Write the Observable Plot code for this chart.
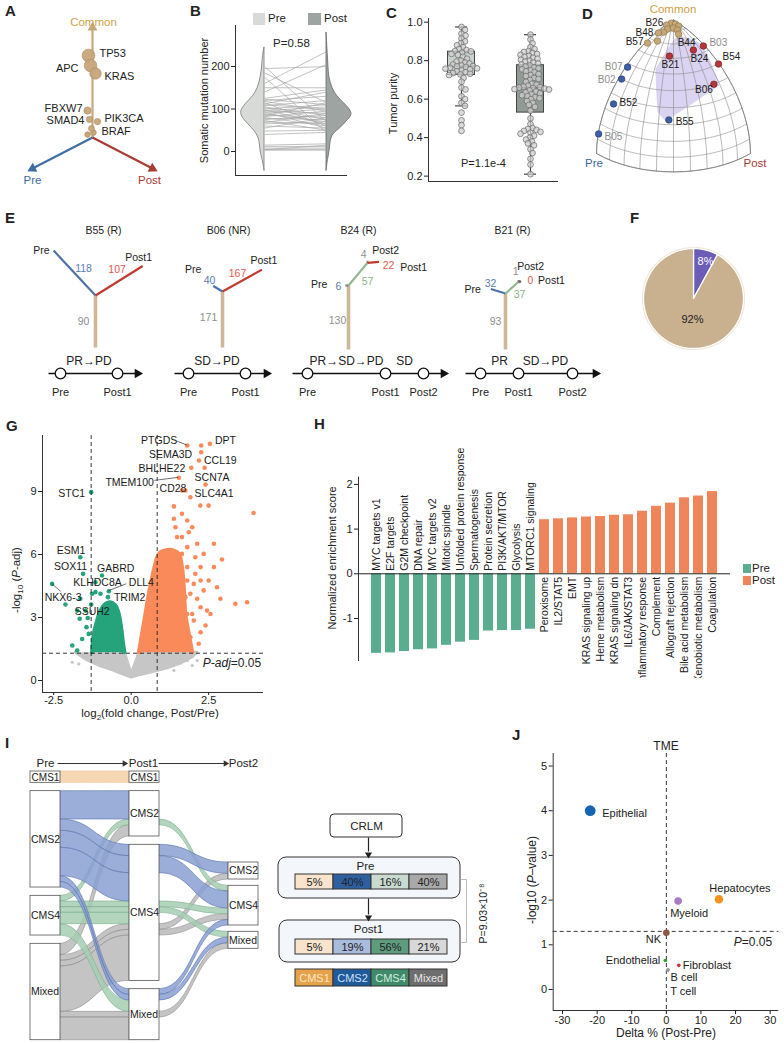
<!DOCTYPE html>
<html><head><meta charset="utf-8">
<script src="https://cdn.jsdelivr.net/npm/d3@7"></script>
<script src="https://cdn.jsdelivr.net/npm/@observablehq/plot@0.6"></script>
<style>
html,body{margin:0;padding:0;background:#fff;}
#fig{position:relative;width:784px;height:1043px;overflow:hidden;background:#fff;font-family:'Liberation Sans',Arial,Helvetica,sans-serif;color:#222;}
.t{position:absolute;white-space:nowrap;line-height:1;}
.L{position:absolute;font-weight:bold;font-size:15px;line-height:1;}
.sq{position:absolute;}
</style></head><body><div id="fig"></div>
<script>
// ======================= DATA =======================
// A: driver genes positioned on Common / Pre / Post axes
const aAxes=["Common","Pre","Post"];
const aGenes=["TP53","APC","KRAS","FBXW7","SMAD4","PIK3CA","BRAF"];
const aCommonFrac=[0.745,0.655,0.582,0.245,0.164,0.145,0.082];
const aPostMinusPre=[-0.067,-0.033,0.05,-0.083,-0.05,0.083,-0.017];
const aFreq=[0.62,0.6,0.5,0.2,0.15,0.15,0.14];
const aMinorCommonFrac=[0.027,0.045];
const aMinorPostMinusPre=[-0.083,0.017];
const aMinorFreq=[0.12,0.12];

// B: somatic mutation number, paired Pre / Post
const bGroups=["Pre","Post"];
const bPre =[200,195,185,175,160,150,140,125,123,120,118,115,112,110,108,105,103,100,98,96,95,93,90,88,86,84,82,80,78,75,73,70,68,65,60,55,48,40,15,12,8,5,4,3];
const bPost=[70,200,115,45,235,150,205,145,110,130,95,60,140,100,120,85,75,110,65,105,90,55,100,70,80,115,95,60,75,85,50,65,90,70,55,80,50,45,18,12,8,5,15,3];
const bViolinPreValue=[-45,-20,0,20,40,60,75,88,100,115,130,150,175,200,225,245];
const bViolinPreDensity=[0,0.08,0.16,0.2,0.32,0.6,0.84,0.96,0.92,0.72,0.48,0.28,0.16,0.1,0.06,0];
const bViolinPostValue=[-45,-20,0,20,40,55,70,85,100,115,130,150,175,200,240,280];
const bViolinPostDensity=[0,0.06,0.12,0.16,0.28,0.56,0.8,1.0,0.92,0.68,0.44,0.24,0.12,0.08,0.04,0];
const bP="P=0.58";

// C: tumor purity
const cPre=[0.435,0.465,0.49,0.53,0.565,0.58,0.60,0.615,0.65,0.66,0.69,0.71,0.725,0.728,0.732,0.735,0.74,0.745,0.75,0.755,0.758,0.76,0.763,0.767,0.77,0.772,0.775,0.78,0.785,0.79,0.795,0.80,0.81,0.82,0.83,0.835,0.842,0.848,0.85,0.855,0.86,0.87,0.88,0.89,0.90,0.915,0.93,0.94,0.96,0.975];
const cPost=[0.21,0.26,0.29,0.32,0.34,0.36,0.37,0.38,0.39,0.40,0.41,0.42,0.425,0.43,0.435,0.44,0.445,0.45,0.47,0.50,0.54,0.56,0.57,0.58,0.59,0.60,0.605,0.61,0.615,0.62,0.625,0.63,0.635,0.64,0.645,0.65,0.652,0.655,0.658,0.66,0.662,0.665,0.67,0.675,0.68,0.69,0.70,0.705,0.71,0.72,0.725,0.73,0.74,0.745,0.75,0.755,0.76,0.765,0.77,0.775,0.78,0.785,0.79,0.795,0.80,0.805,0.81,0.815,0.82,0.825,0.83,0.835,0.84,0.845,0.85,0.86,0.87,0.89,0.91,0.935];
const cP="P=1.1e-4";

// D: sample composition (pre-private, post-private, common)
const dSample=["B26","","","","","","","","B48","B57","","B44","B24","B03","B54","B21","B06","B55","B07","B02","B52","B05"];
const dPre   =[0.05,0.096,0.03,0.03,0.13,0.083,0.075,0.183,0.219,0.36,0.292,0.105,0.124,0.013,0.008,0.332,40,118,0.615,0.707,0.851,0.978];
const dPost  =[0.02,0.006,0.056,0.096,0.052,0.083,0.127,0.053,0.023,0.022,0.084,0.171,0.382,0.401,0.592,0.28,167,107,0.019,0.033,0.073,0.005];
const dCommon=[1.0,0.996,0.998,0.995,0.99,0.993,0.989,0.982,0.975,0.933,0.953,0.981,0.916,0.915,0.806,0.901,171,90,0.788,0.707,0.519,0.211];
const dGroup =["common","common","common","common","common","common","common","common","common","common","common","common","post","post","post","post","post","pre","pre","pre","pre","pre"];
const dMuted =["B03","B07","B02","B05"];
const dShadePre   =[0.12,0.01,0.08,0.39,0.686,0.495];
const dShadePost  =[0.172,0.36,0.47,0.33,0.478,0.261];
const dShadeCommon=[0.977,0.9,0.45,0.28,0.548,0.828];

// E: phylogenetic trees
const eSamples=["B55 (R)","B06 (NR)","B24 (R)","B21 (R)"];
const eTrunk=[90,171,130,93];
const ePre=[118,40,6,32];
const ePost1=[107,167,22,0];
const eShared=[null,null,57,37];
const ePost2=[null,null,4,1];
const eResponse=[["PR→PD"],["SD→PD"],["PR→SD→PD","SD"],["PR","SD→PD"]];
const eTimepoints=[["Pre","Post1"],["Pre","Post1"],["Pre","Post1","Post2"],["Pre","Post1","Post2"]];

// F: pie
const fShares=[8,92];
const fLabels=["8%","92%"];

// G: volcano
const gUpX=[1.81,2.54,2.26,2.26,2.19,1.94,2.37,1.54,1.64,1.75,2.40,1.91,2.23,2.50,3.95,1.38,1.64,1.38,1.81,1.97,1.43,2.13,2.67,1.81,2.34,2.93,2.24,2.07,2.50,2.02,2.34,1.91,2.13,2.24,2.45,2.88,3.36,3.74,1.81,2.02,2.40,2.24,1.91,1.75,2.67,1.64,1.86,1.48,2.24,1.81,1.75,1.97,1.64,2.18,2.77,2.56,1.81,1.64,2.07];
const gUpY=[11.19,11.27,11.19,10.87,10.48,10.13,10.13,9.65,9.05,9.05,9.33,8.73,8.33,8.33,7.98,8.29,7.94,7.70,7.62,7.30,7.30,6.51,6.51,6.35,6.03,5.76,5.40,5.08,4.76,4.60,4.29,4.13,3.89,3.49,3.33,3.89,3.65,3.73,3.17,2.86,2.62,2.30,2.06,1.75,5.40,6.83,7.06,6.83,4.76,4.76,3.97,3.17,2.54,1.75,4.44,3.17,5.40,6.03,5.87];
const gDownX=[-1.29,-1.64,-1.55,-0.94,-1.15,-0.72,-2.55,-1.29,-0.75,-2.12,-1.74,-1.66,-1.40,-1.44,-1.58,-1.90,-1.74,-1.26,-1.47,-1.37,-1.15,-0.99,-1.64];
const gDownY=[8.97,5.87,5.08,5.0,4.21,4.25,4.60,3.62,3.97,3.62,3.33,2.94,2.98,2.54,1.98,1.67,1.43,4.13,3.33,2.22,4.68,4.13,3.89];
const gNsX=[-1.90,-1.69,1.81,1.97,1.38,-1.53,2.13];
const gNsY=[0.87,0.79,0.95,0.71,0.48,1.11,0.95];
const gUpCloudX=[0.25,0.35,0.46,0.57,0.68,0.78,0.84,0.95,1.16,1.38,1.54,1.64,1.70,1.75,1.86,1.97];
const gUpCloudY=[1.35,2.22,3.17,4.13,4.92,5.56,5.87,6.11,6.22,6.19,6.03,5.40,4.44,3.17,2.22,1.35];
const gDownCloudX=[-1.26,-1.205,-1.098,-0.99,-0.829,-0.668,-0.506,-0.399,-0.324,-0.259,-0.216];
const gDownCloudY=[1.35,2.22,2.86,3.33,3.65,3.73,3.57,3.17,2.54,1.75,1.35];
const gNsCloudX=[-1.80,-1.42,-0.99,-0.56,-0.24,0.0,0.30,0.73,1.16,1.59,1.97,2.13,0.25,0.0,-0.22];
const gNsCloudY=[1.35,0.98,0.70,0.48,0.29,0.16,0.29,0.44,0.60,0.83,1.14,1.35,1.35,0.32,1.35];
const gLabelGene=["PTGDS","DPT","SEMA3D","CCL19","BHLHE22","SCN7A","TMEM100","CD28","SLC4A1","STC1","ESM1","SOX11","GABRD","KLHDC8A","DLL4","NKX6-3","SSUH2","TRIM2"];
const gLabelX=[1.81,2.54,2.26,2.19,1.94,2.37,1.54,1.64,2.40,-1.29,-1.64,-1.55,-0.94,-1.15,-0.72,-2.55,-1.29,-0.75];
const gLabelY=[11.19,11.27,10.87,10.48,10.13,10.13,9.65,9.05,9.33,8.97,5.87,5.08,5.0,4.21,4.25,4.60,3.62,3.97];
const gFCcut=[-1.29,0.84];
const gPadjCut=1.3;

// H: GSEA
const hPathways=["MYC targets v1","E2F targets","G2M checkpoint","DNA repair","MYC targets v2","Mitotic spindle","Unfolded protein response","Spermatogenesis","Protein secretion","PI3K/AKT/MTOR","Glycolysis","MTORC1 signaling","Peroxisome","IL2/STAT5","EMT","KRAS signaling up","Heme metabolism","KRAS signaling dn","IL6/JAK/STAT3","Inflammatory response","Complement","Allograft rejection","Bile acid metabolism","Xenobiotic metabolism","Coagulation"];
const hNES=[-1.78,-1.77,-1.74,-1.70,-1.68,-1.60,-1.53,-1.49,-1.28,-1.27,-1.27,-1.24,1.21,1.23,1.25,1.27,1.28,1.31,1.32,1.40,1.51,1.58,1.70,1.74,1.84];
const hGroups=["Pre","Post"];

// I: CMS alluvial
const iStates=["CMS1","CMS2","CMS4","Mixed"];
const iPre  =["CMS1","CMS2","CMS2","CMS2","CMS2","CMS2","CMS2","CMS4","CMS4","CMS4","CMS4","CMS4","Mixed","Mixed","Mixed","Mixed","Mixed","Mixed"];
const iPost1=["CMS1","CMS2","CMS4","CMS4","CMS4","Mixed","Mixed","CMS2","CMS4","CMS4","CMS4","Mixed","CMS2","CMS4","CMS4","CMS4","Mixed","Mixed"];
const iPost2=[null,null,"CMS2","CMS4",null,"CMS4","Mixed","CMS4","CMS4","Mixed",null,null,null,"CMS2","CMS4",null,"Mixed",null];
const iN    =[2,5,2,3,5,1,1,1,1,1,2,2,2,1,1,8,1,4];
const iPrePct=["5%","40%","16%","40%"];
const iPost1Pct=["5%","19%","56%","21%"];
const iP="P=9.03×10⁻⁸";

// J: TME
const jCells=["Epithelial","Hepatocytes","Myeloid","NK","Endothelial","Fibroblast","B cell","T cell"];
const jDelta=[-22,15.2,3.4,0,-0.3,3.6,0.5,0.4];
const jLogP=[4.0,2.02,1.98,1.27,0.65,0.54,0.44,0.43];
const jShare=[40,25,20,15,4.5,4.5,4.5,4.5];

// ======================= HELPERS =======================
const FONT="'Liberation Sans', Arial, Helvetica, sans-serif";
const fig=document.getElementById("fig");
const ST={fontFamily:FONT,fontSize:"10px",color:"#222",background:"transparent",overflow:"visible"};
function mount(svg,x,y,ov="visible"){svg.style.position="absolute";svg.style.left=x+"px";svg.style.top=y+"px";svg.style.overflow=ov;fig.appendChild(svg);return svg;}
function T(html,x,y,o={}){const {size=11,anchor="middle",rot=0,color="#222",weight="normal",style=""}=o;
  const d=document.createElement("div");d.className="t";d.innerHTML=html;
  const tx=anchor==="start"?"0":anchor==="end"?"-100%":"-50%";
  d.style.cssText+=`left:${x}px;top:${y}px;font-size:${size}px;color:${color};font-weight:${weight};transform:translate(${tx},-50%) rotate(${rot}deg);${style}`;
  fig.appendChild(d);}
function Lt(s,x,y){const d=document.createElement("div");d.className="L";d.textContent=s;d.style.left=x+"px";d.style.top=y+"px";fig.appendChild(d);}
function SQ(x,y,w,h,c){const d=document.createElement("div");d.className="sq";d.style.cssText+=`left:${x}px;top:${y}px;width:${w}px;height:${h}px;background:${c};`;fig.appendChild(d);}
function pxPlot(x0,y0,w,h,marks,extra={}){return Plot.plot({style:ST,width:w,height:h,margin:0,
  x:{type:"linear",domain:[x0,x0+w],range:[0,w],axis:null},y:{type:"linear",domain:[y0,y0+h],range:[0,h],axis:null},marks,...extra});}
function textMarks(list,base={}){
  const groups=d3.groups(list,d=>d.anchor||"middle");
  return groups.map(([a,arr])=>Plot.text(arr,{x:"x",y:"y",text:"t",textAnchor:a,fill:d=>d.color||"#222",fontSize:d=>d.size||10.5,...base}));}

// ======================= PANEL A =======================
{
  const O=[92,137],Lc=110,Ls=60;
  const tips=[{x:92,y:27,c:"#c6a97f",rot:0},{x:32,y:168,c:"#3f6ea6",rot:-117},{x:152,y:168,c:"#a93b33",rot:117}];
  const genes=aGenes.map((g,i)=>({g,x:O[0]+aPostMinusPre[i]*Ls,y:O[1]-aCommonFrac[i]*Lc,f:aFreq[i]}));
  const minor=aMinorFreq.map((f,i)=>({x:O[0]+aMinorPostMinusPre[i]*Ls,y:O[1]-aMinorCommonFrac[i]*Lc,f}));
  const off=[[11,-2,"start"],[-12,3,"end"],[9,3,"start"],[-5,-2,"end"],[-5,1,"end"],[7,-3,"start"],[10,3,"start"]];
  const labs=genes.map((d,i)=>({x:d.x+off[i][0],y:d.y+off[i][1],t:d.g,anchor:off[i][2],size:11}));
  const axisLabs=[{x:93,y:22,t:aAxes[0],color:"#d0a24a",size:11.5},{x:32,y:180,t:aAxes[1],color:"#3e6aa3",size:11.5},{x:149,y:180,t:aAxes[2],color:"#a83a32",size:11.5}];
  mount(pxPlot(0,0,185,190,[
    Plot.link(tips,{x1:O[0],y1:O[1],x2:"x",y2:"y",stroke:d=>d.c,strokeWidth:2.2}),
    Plot.dot(tips,{x:"x",y:"y",symbol:"triangle2",r:4.8,fill:d=>d.c,rotate:"rot"}),
    Plot.dot(minor,{x:"x",y:"y",r:"f",fill:"#c7a57a",stroke:"#a98a60",strokeWidth:0.6}),
    Plot.dot(genes,{x:"x",y:"y",r:"f",fill:"#c7a57a",stroke:"#a98a60",strokeWidth:0.6,fillOpacity:0.95}),
    ...textMarks(labs),...textMarks(axisLabs)
  ],{r:{domain:[0,0.62],range:[0,6.4]}}),0,0);
}

// ======================= PANEL B =======================
{
  const sP=0.39,sQ=0.40;
  const vPre=bViolinPreValue.map((v,i)=>({v,w:bViolinPreDensity[i]*sP}));
  const vPost=bViolinPostValue.map((v,i)=>({v,w:bViolinPostDensity[i]*sQ}));
  const pairs=bPre.map((p,i)=>({pre:p,post:bPost[i]}));
  mount(Plot.plot({style:ST,width:170,height:190,marginLeft:45,marginRight:13,marginTop:25,marginBottom:15,
    x:{domain:[-0.468,1.339],axis:null},y:{domain:[-56.5,296.5]},
    marks:[
      Plot.areaX(vPre,{y:"v",x1:0,x2:d=>-d.w,fill:"#d8dad8",stroke:"#777",strokeWidth:0.8,curve:"natural"}),
      Plot.areaX(vPost,{y:"v",x1:1,x2:d=>1+d.w,fill:"#9ea4a1",stroke:"#666",strokeWidth:0.8,curve:"natural"}),
      Plot.link(pairs,{x1:0,x2:1,y1:"pre",y2:"post",stroke:"#a8a8a8",strokeWidth:0.7}),
      Plot.ruleX([-0.468],{stroke:"#333"}),Plot.ruleY([-56.5],{stroke:"#333"}),
      Plot.axisY({ticks:[0,100,200],tickSize:4,tickPadding:2,label:null,fontSize:11}),
      Plot.text([bP],{text:d=>d,frameAnchor:"top",dy:18,lineAnchor:"middle",fontSize:11.5}),
      Plot.text(["Somatic mutation number"],{text:d=>d,frameAnchor:"left",dx:-31,rotate:-90,textAnchor:"middle",lineAnchor:"middle",fontSize:11})
    ]}),190,0);
  SQ(253,13,12,12,"#d8dad8");T(bGroups[0],268,19,{anchor:"start",size:11.5});
  SQ(308,13,13,12,"#9ea4a1");T(bGroups[1],324,19,{anchor:"start",size:11.5});
}

// ======================= PANEL C =======================
{
  const k=192.5;
  function swarm(vals,diam){const placed=[],out=[];
    [...vals].sort((a,b)=>b-a).forEach(v=>{const y=v*k;let best=0;
      for(let j=0;j<300;j++){const o=(j%2?1:-1)*Math.ceil(j/2)*0.5;
        if(placed.every(p=>(p.x-o)**2+(p.y-y)**2>=diam*diam)){best=o;break;}}
      placed.push({x:best,y});out.push({v,o:best});});return out;}
  const groups=[{vals:cPre,cx:33,fill:"#c9d4cd"},{vals:cPost,cx:102,fill:"#8f9b94"}];
  const marks=[];
  groups.forEach(g=>{
    const s=[...g.vals].sort(d3.ascending);
    const q1=d3.quantile(s,0.25),q2=d3.quantile(s,0.5),q3=d3.quantile(s,0.75),iqr=q3-q1;
    const lo=d3.min(s.filter(v=>v>=q1-1.5*iqr)),hi=d3.max(s.filter(v=>v<=q3+1.5*iqr));
    marks.push(Plot.ruleX([g.cx],{y1:lo,y2:hi,stroke:"#444",strokeWidth:1.2}));
    marks.push(Plot.ruleY([lo,hi],{x1:g.cx-6,x2:g.cx+6,stroke:"#444",strokeWidth:1.2}));
    marks.push(Plot.rect([0],{x1:g.cx-13.5,x2:g.cx+13.5,y1:q1,y2:q3,fill:g.fill,stroke:"#444",strokeWidth:1}));
    marks.push(Plot.ruleY([q2],{x1:g.cx-13.5,x2:g.cx+13.5,stroke:"#444",strokeWidth:1}));
    const pts=swarm(g.vals,4.3).map(d=>({x:g.cx+d.o,y:d.v}));
    marks.push(Plot.dot(pts,{x:"x",y:"y",r:2.9,fill:"#cfcfcf",stroke:"#6a6a6a",strokeWidth:0.7,fillOpacity:0.75}));
  });
  mount(Plot.plot({style:ST,width:190,height:190,marginLeft:48,marginRight:12,marginTop:18,marginBottom:9,
    x:{domain:[0,130],axis:null},y:{domain:[0.172,1.019]},
    marks:[...marks,
      Plot.ruleX([0],{stroke:"#333"}),Plot.ruleY([0.172],{stroke:"#333"}),
      Plot.axisY({ticks:[0.2,0.4,0.6,0.8,1.0],tickFormat:d=>d.toFixed(1),tickSize:4,tickPadding:2,label:null,fontSize:11}),
      Plot.text([cP],{text:d=>d,x:55,y:0.266,fontSize:11}),
      Plot.text(["Tumor purity"],{text:d=>d,frameAnchor:"left",dx:-35,dy:3.5,rotate:-90,textAnchor:"middle",lineAnchor:"middle",fontSize:11})
    ]}),380,0);
}

// ======================= PANEL D =======================
{
  const toLL=(p,q,c)=>{const n=Math.hypot(p,q,c);return [Math.atan2(q,p)*180/Math.PI,Math.asin(c/n)*180/Math.PI];};
  const col={common:["#c4a878","#8a7047"],post:["#b3363b","#6b1f22"],pre:["#3d5fa5","#21386b"]};
  const pts=dSample.map((s,i)=>{const [lon,lat]=toLL(dPre[i],dPost[i],dCommon[i]);return {s,lon,lat,g:dGroup[i]};});
  const grat=d3.geoGraticule().extent([[0,0],[90.0001,90]]).step([9,9]).precision(1)();
  const outline={type:"LineString",coordinates:[[0,0],[0,90],[90,0],[0,0]]};
  let ring=dShadePre.map((p,i)=>toLL(p,dShadePost[i],dShadeCommon[i]));ring.push(ring[0]);
  let poly={type:"Polygon",coordinates:[ring]};
  if(d3.geoArea(poly)>2*Math.PI){ring=ring.slice().reverse();poly={type:"Polygon",coordinates:[ring]};}
  const lp={B26:[-8,-1,"end"],B48:[-5,0,"end"],B57:[-4,-1,"end"],B44:[8,9,"middle"],B24:[6,9,"middle"],B03:[6,-3,"start"],B54:[4,-7,"start"],B21:[1,9,"middle"],B06:[-10,6,"middle"],B55:[7,2,"start"],B07:[-5,0,"end"],B02:[-6,1,"end"],B52:[6,-1,"start"],B05:[6,3,"start"]};
  const labMarks=pts.filter(d=>d.s).map(d=>Plot.text([d],{x:"lon",y:"lat",text:"s",dx:lp[d.s][0],dy:lp[d.s][1],textAnchor:lp[d.s][2],fontSize:10,fill:dMuted.includes(d.s)?"#8d8d8d":"#1a1a1a"}));
  mount(Plot.plot({style:ST,width:204,height:185,marginLeft:16,marginRight:34,marginTop:18,marginBottom:12,
    projection:{type:"orthographic",rotate:[-45,-35.264],domain:outline},
    marks:[
      Plot.geo(poly,{fill:"#cdc4ec",fillOpacity:0.75,stroke:"none"}),
      Plot.geo(grat,{stroke:"#8c8c8c",strokeWidth:0.6}),
      Plot.geo(outline,{stroke:"#7a7a7a",strokeWidth:0.8}),
      Plot.dot(pts,{x:"lon",y:"lat",r:3.3,fill:d=>col[d.g][0],stroke:d=>col[d.g][1],strokeWidth:0.6}),
      ...labMarks
    ]}),580,0);
  T(aAxes[0],673,10,{size:11.5,color:"#caa048"});
  T("Pre",594,164,{size:11.5,color:"#3f67a0"});
  T("Post",755,164,{size:11.5,color:"#a53a35"});
}

// ======================= PANEL E =======================
{
  const eLayout=[
    {jx:95,jy:295,trunkLen:52,k:0.52,aPre:-133,aPost:-32,preLab:[-4,0,"end"],preCnt:[9,-4],postLab:[-4,-8],postCnt:[-2,-11],trunkCnt:[-12,0],titleX:103,tl:[60,117],tlStart:48,tlEnd:140},
    {jx:222,jy:291,trunkLen:56,k:0.27,aPre:-149,aPost:-29,preLab:[-12,-16,"end"],preCnt:[-8.4,-8.2],postLab:[2,-9],postCnt:[-4.7,-7],trunkCnt:[-14,-2],titleX:228,tl:[188,245],tlStart:174,tlEnd:269},
    {jx:348,jy:285,trunkLen:64,k:0.52,aPre:180,aShared:-50,aPost:-5,aPost2:-90,preLab:[-18,-1,"end"],preCnt:[-8.4,1],sharedCnt:[9.5,7.3],post2Cnt:[-4,-6],post2Lab:[18,-10],postLab:[34.6,5.7],postCnt:[9.6,3.7],trunkCnt:[-11,3],titleX:358,tl:[307,385,423],tlStart:292,tlEnd:446},
    {jx:505,jy:293,trunkLen:56,k:0.48,aPre:-163,aShared:-42,aPost:0,aPost2:-90,preLab:[-10,0.5,"end"],preCnt:[-7.6,-7.7],sharedCnt:[7.4,7],post2Cnt:[-3,-8.6],post2Lab:[12,-13.6],postLab:[32.8,-1.1],postCnt:[11.8,-1.1],trunkCnt:[-10,0],titleX:512,tl:[480,518,572],tlStart:465,tlEnd:598}];
  const C={trunk:"#cfb898",pre:"#4d73a8",post1:"#bf3b30",shared:"#93b891",post2:"#8e7676"};
  const TC={trunk:"#8f8f8f",pre:"#5a7db3",post1:"#e05a4e",shared:"#86b58a",post2:"#8f8f8f"};
  const segs=[],txt=[],stubs=[],heads=[],circles=[];
  const rad=a=>a*Math.PI/180;
  const go=(p,a,l)=>[p[0]+l*Math.cos(rad(a)),p[1]+l*Math.sin(rad(a))];
  const mid=(p,q)=>[(p[0]+q[0])/2,(p[1]+q[1])/2];
  const add=(t,p,off,color,anchor="middle",size=10.5)=>txt.push({t,x:p[0]+off[0],y:p[1]+off[1],color,anchor,size});
  eSamples.forEach((s,i)=>{
    const L=eLayout[i],J=[L.jx,L.jy],B=[L.jx,L.jy+L.trunkLen];
    segs.push({a:J,b:B,c:C.trunk,w:3.6});
    add(String(eTrunk[i]),mid(J,B),L.trunkCnt,TC.trunk);
    const PE=go(J,L.aPre,Math.max(1.5,ePre[i]*L.k));
    segs.push({a:J,b:PE,c:ePre[i]<10?"#7d7d8d":C.pre,w:2.2});
    add("Pre",PE,L.preLab,"#222",L.preLab[2]);
    add(String(ePre[i]),mid(J,PE),L.preCnt,TC.pre);
    let S=J;
    if(eShared[i]!=null){
      const SE=go(J,L.aShared,eShared[i]*L.k);
      segs.push({a:J,b:SE,c:C.shared,w:2.2});
      add(String(eShared[i]),mid(J,SE),L.sharedCnt,TC.shared);
      const P2=go(SE,L.aPost2,Math.max(1.5,ePost2[i]*L.k));
      segs.push({a:SE,b:P2,c:C.post2,w:2});
      add(String(ePost2[i]),P2,L.post2Cnt,TC.post2);
      add("Post2",P2,L.post2Lab,"#222");
      S=SE;
    }
    const l1=ePost1[i]*L.k,P1=go(S,L.aPost,l1);
    if(l1>0) segs.push({a:S,b:P1,c:C.post1,w:2.2}); else stubs.push({x:P1[0]+1,y:P1[1]});
    add(String(ePost1[i]),eShared[i]!=null?P1:mid(S,P1),L.postCnt,TC.post1);
    add("Post1",P1,L.postLab,"#222");
    add(s,[L.titleX,230],[0,0],"#222","middle",10.5);
    const ty=373;
    segs.push({a:[L.tlStart,ty],b:[L.tlEnd-4,ty],c:"#111",w:1.4});
    heads.push({x:L.tlEnd-3,y:ty,rot:90});
    L.tl.forEach((x,kk)=>{circles.push({x,y:ty});add(eTimepoints[i][kk],[x,392],[0,0],"#222","middle",11);});
    eResponse[i].forEach((r,kk)=>add(r,[(L.tl[kk]+L.tl[kk+1])/2,361],[0,0],"#222","middle",12));
  });
  mount(pxPlot(0,205,630,200,[
    Plot.link(segs,{x1:d=>d.a[0],y1:d=>d.a[1],x2:d=>d.b[0],y2:d=>d.b[1],stroke:d=>d.c,strokeWidth:d=>d.w}),
    Plot.dot(stubs,{x:"x",y:"y",r:1.6,fill:"#7a6a6a"}),
    Plot.dot(heads,{x:"x",y:"y",symbol:"triangle2",r:4.6,fill:"#111",rotate:"rot"}),
    Plot.dot(circles,{x:"x",y:"y",r:5.3,fill:"white",stroke:"#111",strokeWidth:1.3}),
    ...textMarks(txt)
  ]),0,205);
}

// ======================= PANEL F =======================
{
  const cx=693,cy=298,R=50,fColors=["#6b5cb8","#c9b08f"];
  const polys=[];let a0=0;const tot=d3.sum(fShares);
  fShares.forEach((v,i)=>{const a1=a0+v/tot*2*Math.PI;const n=Math.max(3,Math.ceil((a1-a0)/0.03));
    polys.push({id:i,x:cx,y:cy});
    for(let j=0;j<=n;j++){const a=a0+(a1-a0)*j/n;polys.push({id:i,x:cx+R*Math.sin(a),y:cy-R*Math.cos(a)});}
    polys.push({id:i,x:cx,y:cy});a0=a1;});
  mount(pxPlot(630,205,154,195,[
    Plot.dot([[cx,cy]],{x:d=>d[0],y:d=>d[1],r:R+0.8,fill:"none",stroke:"#efe5d6",strokeWidth:1.5}),
    Plot.line(polys,{x:"x",y:"y",z:"id",fill:d=>fColors[d.id],stroke:"white",strokeWidth:1.3}),
    Plot.text([fLabels[0]],{text:d=>d,x:705,y:261,fill:"white",fontSize:11}),
    Plot.text([fLabels[1]],{text:d=>d,x:692,y:319,fill:"#222",fontSize:11})
  ]),630,205);
}

// ======================= PANEL G =======================
{
  const up=gUpX.map((x,i)=>({x,y:gUpY[i]})),dn=gDownX.map((x,i)=>({x,y:gDownY[i]})),ns=gNsX.map((x,i)=>({x,y:gNsY[i]}));
  const upC=gUpCloudX.map((x,i)=>({x,y:gUpCloudY[i]})),dnC=gDownCloudX.map((x,i)=>({x,y:gDownCloudY[i]})),nsC=gNsCloudX.map((x,i)=>({x,y:gNsCloudY[i]}));
  const OR="#fa8a5a",GR="#25a37b",GY="#c6c6c6";
  const lo={PTGDS:[-10,-5,"end"],DPT:[5,-3,"start"],SEMA3D:[-9,2,"end"],CCL19:[5,0,"start"],BHLHE22:[-6,1,"end"],SCN7A:[-10,9.5,"start"],TMEM100:[-25,4.4,"end"],CD28:[-9,-2,"middle"],SLC4A1:[-11,9,"start"],STC1:[-6,1,"end"],ESM1:[5,-6.7,"end"],SOX11:[4,-7,"end"],GABRD:[-5,-7,"start"],KLHDC8A:[2,-9.4,"middle"],DLL4:[20,-8.4,"start"],"NKX6-3":[11,14,"middle"],SSUH2:[1,7,"middle"],TRIM2:[6,0.6,"start"]};
  const labs=gLabelGene.map((g,i)=>Plot.text([{x:gLabelX[i],y:gLabelY[i],g}],{x:"x",y:"y",text:"g",dx:lo[g][0],dy:lo[g][1],textAnchor:lo[g][2],fontSize:10.5,fill:"#1a1a1a"}));
  const leaders=[["PTGDS",-10,-4],["TMEM100",-24,3],["DLL4",18,-7],["NKX6-3",9,8]].map(([g,dx,dy])=>{const i=gLabelGene.indexOf(g);
    return Plot.link([{x:gLabelX[i],y:gLabelY[i]}],{x1:"x",y1:"y",x2:"x",y2:"y",stroke:"#333",strokeWidth:0.7,
      render:(idx,scales)=>{const sx=scales.x(gLabelX[i]),sy=scales.y(gLabelY[i]);
        return d3.create("svg:line").attr("x1",sx).attr("y1",sy).attr("x2",sx+dx).attr("y2",sy+dy).attr("stroke","#333").attr("stroke-width",0.7).node();}});});
  mount(Plot.plot({style:ST,width:270,height:300,marginLeft:42,marginRight:7,marginTop:15,marginBottom:28,
    x:{domain:[-2.86,4.27]},y:{domain:[-0.571,11.667]},
    marks:[
      Plot.line(nsC,{x:"x",y:"y",fill:GY,stroke:GY,strokeWidth:3,strokeLinejoin:"round"}),
      Plot.dot(ns,{x:"x",y:"y",r:1.6,fill:GY}),
      Plot.line(dnC,{x:"x",y:"y",fill:GR,stroke:GR,strokeWidth:4,strokeLinejoin:"round",curve:"catmull-rom"}),
      Plot.line(upC,{x:"x",y:"y",fill:OR,stroke:OR,strokeWidth:4,strokeLinejoin:"round",curve:"catmull-rom"}),
      Plot.dot(dn,{x:"x",y:"y",r:2.3,fill:GR}),
      Plot.dot(up,{x:"x",y:"y",r:2.3,fill:OR}),
      Plot.ruleX(gFCcut,{stroke:"#222",strokeDasharray:"4,3",strokeWidth:0.9}),
      Plot.ruleY([gPadjCut],{stroke:"#222",strokeDasharray:"4,3",strokeWidth:0.9}),
      ...leaders,...labs,
      Plot.ruleX([-2.86],{stroke:"#333"}),Plot.ruleY([-0.571],{stroke:"#333"}),
      Plot.axisY({ticks:[0,3,6,9],tickSize:4,tickPadding:2,label:null,fontSize:11}),
      Plot.axisX({ticks:[-2.5,0,2.5],tickFormat:d=>d.toFixed(1),tickSize:3,tickPadding:1,label:null,fontSize:11})
    ]}),0,420);
  T("log<sub style='font-size:8px'>2</sub>(fold change, Post/Pre)",150,715,{size:11.5});
  T("-log<sub style='font-size:8px'>10</sub> (<i>P</i>-adj)",18,580,{size:11.5,rot:-90});
  T("<i>P-adj</i>=0.05",232,663,{size:12});
}

// ======================= PANEL H =======================
{
  const data=hPathways.map((p,i)=>({p,v:hNES[i],g:hNES[i]<0?hGroups[0]:hGroups[1]}));
  const GRH="#5aae8f",ORH="#ef855a";
  mount(Plot.plot({style:{...ST,overflow:"hidden"},width:494,height:278,marginLeft:68,marginRight:54,marginTop:76.7,marginBottom:18,
    x:{domain:hPathways,padding:0.3,axis:null},y:{domain:[-1.94,2.161]},
    marks:[
      Plot.barY(data,{x:"p",y:"v",fill:d=>d.v<0?GRH:ORH}),
      Plot.ruleY([0],{stroke:"#222",strokeWidth:1}),
      Plot.frame({anchor:"left",stroke:"#333"}),
      Plot.axisY({ticks:[-1,0,1,2],tickFormat:d=>String(d),tickSize:4,tickPadding:2,label:null,fontSize:11}),
      Plot.text(data.filter(d=>d.v<0),{x:"p",y:0,text:"p",rotate:-90,textAnchor:"start",dy:-3,fontSize:10.5,fill:"#1a1a1a"}),
      Plot.text(data.filter(d=>d.v>0),{x:"p",y:0,text:"p",rotate:-90,textAnchor:"end",dy:3,fontSize:10.5,fill:"#1a1a1a"}),
      Plot.text(["Normalized enrichment score"],{text:d=>d,frameAnchor:"left",dx:-26,dy:-11,rotate:-90,textAnchor:"middle",lineAnchor:"middle",fontSize:11})
    ]}),290,400,"hidden");
  SQ(743,564,8,9,GRH);T(hGroups[0],752,569,{anchor:"start",size:11.5});
  SQ(743,576,8,9,ORH);T(hGroups[1],752,581,{anchor:"start",size:11.5});
}

// ======================= PANEL I =======================
{
  const u=5.67,gap=8.3,gap2=6.3;
  const ord=s=>s==null?9:iStates.indexOf(s);
  const traj=iPre.map((p,i)=>({id:i,pre:p,post1:iPost1[i],post2:iPost2[i],n:iN[i]}));
  function column(key,start,g,keys){const nodes=[];let cur=start;
    for(const s of iStates){const m=traj.filter(t=>t[key]===s);if(!m.length)continue;
      const tot=d3.sum(m,t=>t.n);const node={state:s,y0:cur,y1:cur+tot*u};
      m.sort((a,b)=>{for(const kk of keys){const d=ord(a[kk])-ord(b[kk]);if(d)return d;}return 0;});
      let c=cur;for(const t of m){t[key+"Y"]=c;c+=t.n*u;}
      nodes.push(node);cur=node.y1+g;}
    return nodes;}
  const preN=column("pre",771,gap,["post1","post2"]).map(d=>({...d,x0:30,x1:60}));
  const p1N=column("post1",771,gap,["pre","post2"]).map(d=>({...d,x0:129,x1:159}));
  const p2N=column("post2",862,gap2,["post1","pre"]).map(d=>({...d,x0:228,x1:258}));
  const fillC={CMS1:"#f6cfa6",CMS2:"#8a9fd2",CMS4:"#a6ceb1",Mixed:"#bababa"};
  const strokeC={CMS1:"#f3c08d",CMS2:"#5b73ad",CMS4:"#7aae8c",Mixed:"#8d8d8d"};
  const drawOrder=["Mixed","CMS4","CMS2","CMS1"];
  const bands=[];
  traj.slice().sort((a,b)=>drawOrder.indexOf(a.pre)-drawOrder.indexOf(b.pre)).forEach(t=>{
    bands.push({id:"a"+t.id,st:t.pre,x:60,y1:t.preY,y2:t.preY+t.n*u},{id:"a"+t.id,st:t.pre,x:129,y1:t.post1Y,y2:t.post1Y+t.n*u});
    if(t.post2) bands.push({id:"b"+t.id,st:t.pre,x:159,y1:t.post1Y,y2:t.post1Y+t.n*u},{id:"b"+t.id,st:t.pre,x:228,y1:t.post2Y,y2:t.post2Y+t.n*u});
  });
  const nodes=[...preN,...p1N,...p2N];
  const nodeLabs=nodes.map(d=>d.state==="CMS1"?{x:(d.x0+d.x1)/2,y:(d.y0+d.y1)/2+0.5,t:d.state,anchor:"middle",size:10}:{x:d.x0+0.5,y:(d.y0+d.y1)/2,t:d.state,anchor:"start",size:10.5});
  const segW=38,bx=295;
  const preBar=iPrePct.map((t,i)=>({x1:bx+i*segW,x2:bx+(i+1)*segW,y1:874,y2:889,t,fill:["#f8e3cd","#2e5f9f","#c9dbd1","#a9a9a9"][i]}));
  const p1Bar=iPost1Pct.map((t,i)=>({x1:bx+i*segW,x2:bx+(i+1)*segW,y1:939,y2:954,t,fill:["#f8e3cd","#a9bcdd","#5e9c7e","#d8d8d8"][i]}));
  const legBar=iStates.map((t,i)=>({x1:bx+i*segW,x2:bx+(i+1)*segW,y1:969,y2:986,t,fill:["#e5a24a","#1f5b9b","#3f8a6b","#6e6e6e"][i],tc:["#fbe6c8","#cfe0f5","#d3eddf","#e6e6e6"][i]}));
  const hdr=[{x:45,y:763,t:"Pre",size:11.5},{x:143,y:763,t:"Post1",size:11.5},{x:243,y:763,t:"Post2",size:11.5}];
  const arr=[{x1:57,x2:123,y:763},{x1:158,x2:224,y:763}];
  mount(pxPlot(0,735,500,308,[
    Plot.areaY(bands,{x:"x",y1:"y1",y2:"y2",z:"id",fill:d=>fillC[d.st],fillOpacity:0.85,stroke:d=>strokeC[d.st],strokeWidth:0.6,curve:"bump-x"}),
    Plot.rect(nodes,{x1:"x0",x2:"x1",y1:"y0",y2:"y1",fill:"white",stroke:"#555",strokeWidth:0.8}),
    ...textMarks(nodeLabs),
    ...textMarks(hdr),
    Plot.link(arr,{x1:"x1",x2:"x2",y1:"y",y2:"y",stroke:"#333",strokeWidth:1}),
    Plot.dot(arr,{x:d=>d.x2+1,y:"y",symbol:"triangle2",r:3,fill:"#333",rotate:90}),
    Plot.rect([{x1:330,x2:402,y1:814,y2:837}],{x1:"x1",x2:"x2",y1:"y1",y2:"y2",rx:4,fill:"white",stroke:"#333",strokeWidth:1}),
    Plot.text(["CRLM"],{text:d=>d,x:366,y:826,fontSize:11.5}),
    Plot.rect([{x1:278,x2:460,y1:857,y2:898},{x1:279,x2:460,y1:920,y2:962}],{x1:"x1",x2:"x2",y1:"y1",y2:"y2",rx:8,fill:"#f3f6fa",stroke:"#333",strokeWidth:1}),
    Plot.text(["Pre"],{text:d=>d,x:365,y:866,fontSize:11.5}),
    Plot.text(["Post1"],{text:d=>d,x:368,y:929,fontSize:11.5}),
    Plot.link([{y1:837,y2:851},{y1:898,y2:914}],{x1:368,x2:368,y1:"y1",y2:"y2",stroke:"#222",strokeWidth:1.2}),
    Plot.dot([854,917],{x:368,y:d=>d,symbol:"triangle2",r:3.4,fill:"#222",rotate:180}),
    Plot.rect([...preBar,...p1Bar],{x1:"x1",x2:"x2",y1:"y1",y2:"y2",fill:"fill",stroke:"#333",strokeWidth:1}),
    Plot.text([...preBar,...p1Bar],{x:d=>(d.x1+d.x2)/2,y:d=>(d.y1+d.y2)/2+0.5,text:"t",fontSize:11,fill:"#222"}),
    Plot.rect(legBar,{x1:"x1",x2:"x2",y1:"y1",y2:"y2",fill:"fill",stroke:"#333",strokeWidth:1}),
    Plot.text(legBar,{x:d=>(d.x1+d.x2)/2,y:d=>(d.y1+d.y2)/2+0.5,text:"t",fontSize:11,fill:"tc"}),
    Plot.line([[460,879],[466,879],[466,942],[460,942]],{x:d=>d[0],y:d=>d[1],stroke:"#aaa",strokeWidth:0.8}),
    Plot.text([iP],{text:d=>d,x:483,y:913,rotate:-90,fontSize:10.5})
  ]),0,735);
}

// ======================= PANEL J =======================
{
  const cols=["#1565b0","#f7911d","#a47dc5","#8c5846","#2ca02c","#d3313a","#9a9a9a","#9a9a9a"];
  const pts=jCells.map((c,i)=>({c,x:jDelta[i],y:jLogP[i],s:jShare[i],col:cols[i]}));
  const lo={Epithelial:[12,3,"start"],Hepatocytes:[21,-11,"middle"],Myeloid:[11,12,"middle"],NK:[-13,7,"middle"],Endothelial:[-5,0,"end"],Fibroblast:[4,0,"start"],"B cell":[2.5,8,"start"],"T cell":[2.5,21,"start"]};
  const labs=pts.map(d=>Plot.text([d],{x:"x",y:"y",text:"c",dx:lo[d.c][0],dy:lo[d.c][1],textAnchor:lo[d.c][2],fontSize:11,fill:"#1a1a1a"}));
  mount(Plot.plot({style:ST,width:284,height:318,marginLeft:52.7,marginRight:5.7,marginTop:28,marginBottom:33,
    x:{domain:[-32.7,32.5]},y:{domain:[-0.47,5.28]},r:{domain:[0,40],range:[0,5.4]},
    marks:[
      Plot.ruleX([0],{stroke:"#222",strokeDasharray:"4,3",strokeWidth:0.9}),
      Plot.ruleY([1.3],{stroke:"#222",strokeDasharray:"4,3",strokeWidth:0.9}),
      Plot.dot(pts,{x:"x",y:"y",r:"s",fill:"col"}),
      ...labs,
      Plot.ruleX([-32.7],{stroke:"#333"}),Plot.ruleY([-0.47],{stroke:"#333"}),
      Plot.axisY({ticks:[0,1,2,3,4,5],tickFormat:d=>String(d),tickSize:4,tickPadding:2,label:null,fontSize:11}),
      Plot.axisX({ticks:[-30,-20,-10,0,10,20,30],tickFormat:d=>String(d),tickSize:4,tickPadding:2,label:null,fontSize:11}),
      Plot.text(["TME"],{text:d=>d,frameAnchor:"top",dy:-7,lineAnchor:"middle",fontSize:12}),
      Plot.text(["Delta % (Post-Pre)"],{text:d=>d,frameAnchor:"bottom",dy:23,lineAnchor:"middle",fontSize:12})
    ]}),500,725);
  T("-log10 (<i>P</i>–value)",532,880,{size:12,rot:-90});
  T("<i>P</i>=0.05",753,942,{size:12});
}

// ======================= PANEL LETTERS =======================
[["A",5,3],["B",190,3],["C",386,5],["D",582,6],["E",5,210],["F",630,210],["G",6,418],["H",314,416],["I",5,735],["J",512,727]].forEach(([s,x,y])=>Lt(s,x,y));
</script></body></html>
